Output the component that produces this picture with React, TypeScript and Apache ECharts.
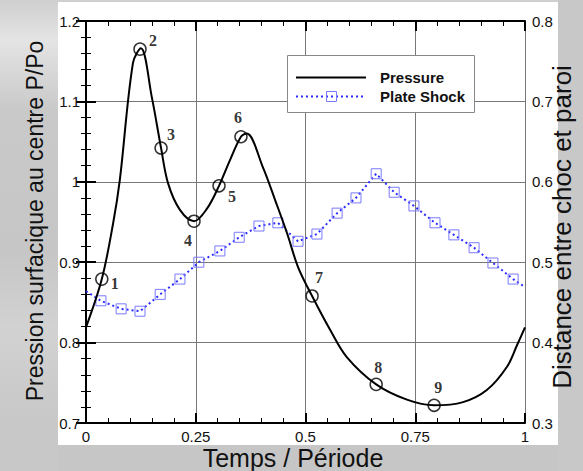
import React, { useEffect, useRef } from "react";
import * as echarts from "echarts";

const pressureX = [0, 0.036, 0.062, 0.077, 0.107, 0.125, 0.150, 0.171, 0.187, 0.214, 0.246, 0.276, 0.303, 0.328, 0.353, 0.366, 0.403, 0.431, 0.458, 0.483, 0.515, 0.556, 0.594, 0.661, 0.731, 0.793, 0.859, 0.913, 0.959, 0.982, 1];
const pressureY = [0.819, 0.879, 0.949, 1.002, 1.148, 1.166, 1.105, 1.042, 0.998, 0.965, 0.951, 0.967, 0.995, 1.027, 1.056, 1.060, 1.018, 0.977, 0.936, 0.894, 0.858, 0.816, 0.782, 0.748, 0.729, 0.722, 0.726, 0.741, 0.770, 0.797, 0.819];

const markLabels = ["1", "2", "3", "4", "5", "6", "7", "8", "9"];
const markX = [0.036, 0.123, 0.171, 0.246, 0.303, 0.353, 0.515, 0.661, 0.793];
const markY = [0.879, 1.165, 1.042, 0.951, 0.995, 1.056, 0.858, 0.748, 0.722];
const markOffsets = [[13, 4], [13, -9], [10, -14], [-6, 19], [13, 11], [-3, -19], [7, -18], [2, -17], [4, -18]];

const shockX = [0, 0.034, 0.080, 0.123, 0.169, 0.214, 0.257, 0.305, 0.349, 0.394, 0.437, 0.483, 0.526, 0.572, 0.615, 0.661, 0.702, 0.747, 0.795, 0.838, 0.884, 0.927, 0.973, 1];
const shockY = [0.464, 0.452, 0.442, 0.439, 0.460, 0.479, 0.500, 0.514, 0.531, 0.545, 0.549, 0.526, 0.535, 0.561, 0.580, 0.610, 0.587, 0.570, 0.549, 0.534, 0.518, 0.499, 0.479, 0.469];

const xTicks = [0, 0.25, 0.5, 0.75, 1];
const leftTicks = [0.7, 0.8, 0.9, 1.0, 1.1, 1.2];
const rightTicks = [0.3, 0.4, 0.5, 0.6, 0.7, 0.8];
const legendNames = ["Pressure", "Plate Shock"];

const FONT = "'Liberation Sans', Arial, Helvetica, sans-serif";
const SERIF = "'Liberation Serif', 'Times New Roman', serif";

export default function App() {
  const ref = useRef<HTMLDivElement>(null);
  useEffect(() => {
    if (!ref.current) return;
    const chart = echarts.init(ref.current, null, { renderer: "svg" });
    const axisCommon = {
      axisLine: { lineStyle: { color: "#000", width: 2 } },
      axisTick: { inside: true, length: 10, lineStyle: { color: "#000", width: 2 } },
      minorTick: { show: true, splitNumber: 5, length: 5, lineStyle: { color: "#000", width: 1 } },
    };
    const labelStyle = { color: "#111", fontSize: 15, fontFamily: FONT };
    const fmt = (v: number) => String(Math.round(v * 100) / 100);
    const last = shockX.length - 1;
    chart.setOption({
      animation: false,
      backgroundColor: "transparent",
      grid: { left: 86, right: 58, top: 21, bottom: 48, containLabel: false },
      xAxis: [
        {
          type: "value", position: "bottom", min: xTicks[0], max: xTicks[xTicks.length - 1], interval: 0.25,
          ...axisCommon,
          axisLabel: { ...labelStyle, margin: 6, formatter: fmt },
          splitLine: { show: true, lineStyle: { color: "#777", width: 1 } },
        },
        {
          type: "value", position: "top", min: 0, max: 1, interval: 0.25,
          ...axisCommon,
          axisLabel: { show: false },
          splitLine: { show: false },
        },
      ],
      yAxis: [
        {
          type: "value", position: "left", min: leftTicks[0], max: leftTicks[leftTicks.length - 1], interval: 0.1,
          ...axisCommon,
          axisLabel: { ...labelStyle, margin: 6, formatter: fmt },
          splitLine: { show: true, lineStyle: { color: "#777", width: 1 } },
        },
        {
          type: "value", position: "right", min: rightTicks[0], max: rightTicks[rightTicks.length - 1], interval: 0.1,
          ...axisCommon,
          axisLabel: { ...labelStyle, margin: 7, formatter: fmt },
          splitLine: { show: false },
        },
      ],
      series: [
        {
          name: legendNames[0], type: "line", xAxisIndex: 0, yAxisIndex: 0,
          data: pressureX.map((x, i) => [x, pressureY[i]]),
          smooth: 0.35, symbol: "none",
          lineStyle: { color: "#000", width: 2 },
          itemStyle: { color: "#000" },
          z: 3,
        },
        {
          name: legendNames[1], type: "line", xAxisIndex: 0, yAxisIndex: 1,
          data: shockX.map((x, i) => ({ value: [x, shockY[i]], symbol: i === 0 || i === last ? "none" : "rect" })),
          symbol: "rect", symbolSize: 10, showAllSymbol: true,
          lineStyle: { color: "#2b2bff", width: 2, type: [2, 3] },
          itemStyle: { color: "rgba(255,255,255,0)", borderColor: "#7a7aff", borderWidth: 1 },
          z: 2,
        },
        {
          name: "marks", type: "scatter", xAxisIndex: 0, yAxisIndex: 0,
          data: markX.map((x, i) => ({
            name: markLabels[i], value: [x, markY[i]],
            label: { offset: markOffsets[i] },
          })),
          symbol: "circle", symbolSize: 12,
          itemStyle: { color: "rgba(255,255,255,0)", borderColor: "#000", borderWidth: 1.5 },
          label: {
            show: true, position: "inside", formatter: "{b}",
            fontFamily: SERIF, fontWeight: "bold", fontSize: 16, color: "#000",
          },
          z: 4,
        },
      ],
      graphic: [
        {
          type: "text", x: 35, y: 221, rotation: Math.PI / 2,
          style: { text: "Pression surfacique au centre P/Po", font: `23px ${FONT}`, fill: "#111", textAlign: "center", textVerticalAlign: "middle" },
        },
        {
          type: "text", x: 562, y: 227, rotation: Math.PI / 2,
          style: { text: "Distance entre choc et paroi", font: `26px ${FONT}`, fill: "#111", textAlign: "center", textVerticalAlign: "middle" },
        },
        {
          type: "text", x: 293, y: 458,
          style: { text: "Temps / Période", font: `25px ${FONT}`, fill: "#111", textAlign: "center", textVerticalAlign: "middle" },
        },
        {
          type: "group", z: 100,
          children: [
            { type: "rect", z: 100, shape: { x: 287.5, y: 55.5, width: 187, height: 57 }, style: { fill: "#fff", stroke: "#888", lineWidth: 1 } },
            { type: "line", z: 101, shape: { x1: 296, y1: 77.5, x2: 366, y2: 77.5 }, style: { stroke: "#000", lineWidth: 2 } },
            { type: "text", z: 101, x: 380, y: 77.5, style: { text: legendNames[0], font: `bold 15px ${FONT}`, fill: "#111", textVerticalAlign: "middle" } },
            { type: "line", z: 101, shape: { x1: 296, y1: 96.5, x2: 366, y2: 96.5 }, style: { stroke: "#2b2bff", lineWidth: 2, lineDash: [2, 3] } },
            { type: "rect", z: 102, shape: { x: 326.5, y: 91.5, width: 10, height: 10 }, style: { fill: "none", stroke: "#7a7aff", lineWidth: 1 } },
            { type: "text", z: 101, x: 380, y: 96.5, style: { text: legendNames[1], font: `bold 15px ${FONT}`, fill: "#111", textVerticalAlign: "middle" } },
          ],
        },
      ],
    });
    return () => chart.dispose();
  }, []);

  return (
    <div style={{ position: "fixed", left: 0, top: 0, width: 583, height: 471, overflow: "hidden",
      background: "linear-gradient(180deg, #cfcfcf 0px, #e4e4e4 40px, #c9c9c9 110px, #c6c6c6 250px, #d2d2d2 330px, #c8c8c8 420px)" }}>
      <div style={{ position: "absolute", left: 58, top: 2, width: 500, height: 443, background: "#fff" }} />
      <div style={{ position: "absolute", left: 558, top: 0, width: 25, height: 471, background: "#c8c8c8" }} />
      <div style={{ position: "absolute", left: 58, top: 445, width: 500, height: 26, background: "#c6c6c6" }} />
      <div ref={ref} style={{ position: "absolute", left: 0, top: 0, width: 583, height: 471 }} />
    </div>
  );
}
